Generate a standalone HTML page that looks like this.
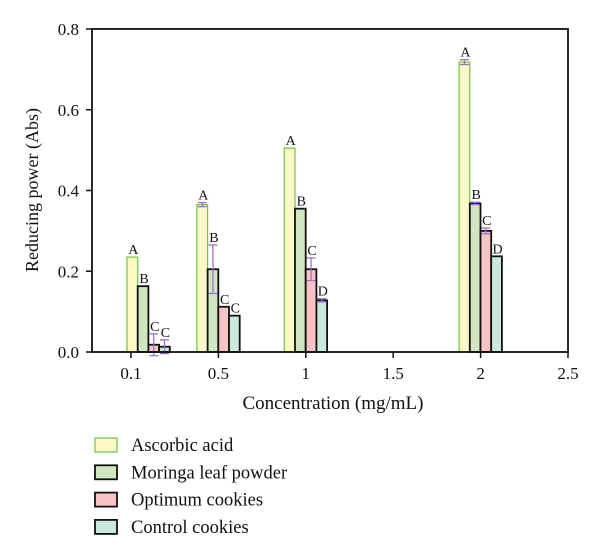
<!DOCTYPE html>
<html><head><meta charset="utf-8"><style>
html,body{margin:0;padding:0;background:#fff;}
svg{display:block;font-family:"Liberation Serif",serif;}
</style></head><body>
<svg id="chart" width="600" height="557" viewBox="0 0 600 557" xmlns="http://www.w3.org/2000/svg">
<g id="plot"></g>
<text x="0" y="0" transform="translate(38,190) rotate(-90)" text-anchor="middle" font-size="18" fill="#111">Reducing power (Abs)</text>
<text x="333" y="409" text-anchor="middle" font-size="19" fill="#111">Concentration (mg/mL)</text>
<g id="legend"></g>
</svg>
<script>
const categories = ["0.1","0.5","1","1.5","2","2.5"];
const barCategories = ["0.1","0.5","1","2"];
const seriesNames = ["Ascorbic acid","Moringa leaf powder","Optimum cookies","Control cookies"];
const ascorbic = [0.235,0.365,0.505,0.718];
const moringa = [0.163,0.205,0.355,0.368];
const optimum = [0.018,0.112,0.205,0.300];
const control = [0.013,0.090,0.128,0.237];
const errAscorbic = [0,0.005,0,0.006];
const errMoringa = [0,0.060,0,0.003];
const errOptimum = [0.027,0,0.028,0.007];
const errControl = [0.017,0,0.004,0];
const lettersAscorbic = ["A","A","A","A"];
const lettersMoringa = ["B","B","B","B"];
const lettersOptimum = ["C","C","C","C"];
const lettersControl = ["C","C","D","D"];
const yTicks = [0,0.2,0.4,0.6,0.8];
const yTickLabels = ["0.0","0.2","0.4","0.6","0.8"];

const NS="http://www.w3.org/2000/svg";
const L=92,R=568,T=29,B=352;
const y=v=>B-(v/0.8)*(B-T);
const step=87.4, x0=131;
const xCat=c=>x0+categories.indexOf(c)*step;
const barW=10.7;
const fills=["#fdf9c6","#cfe6c1","#f8c3c4","#cae8dc"];
const strokes=["#6cc644","#111","#111","#111"];
const plot=document.getElementById('plot');
function mk(tag,attrs,parent){const e=document.createElementNS(NS,tag);for(const k in attrs)e.setAttribute(k,attrs[k]);(parent||plot).appendChild(e);return e;}

const all=[ascorbic,moringa,optimum,control];
const errs=[errAscorbic,errMoringa,errOptimum,errControl];
const letters=[lettersAscorbic,lettersMoringa,lettersOptimum,lettersControl];
barCategories.forEach((c,gi)=>{
  const start = xCat(c) - (gi===0?4:21.5);
  all.forEach((arr,si)=>{
    const bx=start+si*barW, v=arr[gi];
    const r=mk('rect',{x:bx,y:y(v),width:barW,height:B-y(v),fill:fills[si],stroke:strokes[si],'stroke-width':si===0?1.2:1.8});
    
    
    const e=errs[si][gi];
    let top=y(v);
    if(e>0){
      const cx=bx+barW/2, yt=y(v+e), yb=y(v-e);
      const g=mk('g',{stroke:'#9b72c9','stroke-width':1.3,fill:'none'});
      
      
      mk('line',{x1:cx,x2:cx,y1:yt,y2:yb},g);
      mk('line',{x1:cx-4.5,x2:cx+4.5,y1:yt,y2:yt},g);
      mk('line',{x1:cx-4.5,x2:cx+4.5,y1:yb,y2:yb},g);
      top=Math.min(top,yt);
    }
    const t=mk('text',{x:bx+barW/2+1,y:top-3,'text-anchor':'middle','font-size':14,fill:'#111'});
    t.textContent=letters[si][gi];
    
    
  });
});
const frame=mk('rect',{x:L,y:T,width:R-L,height:B-T,fill:'none',stroke:'#111','stroke-width':1.8});


yTicks.forEach((v,i)=>{
  mk('line',{x1:L-6,x2:L,y1:y(v),y2:y(v),stroke:'#111','stroke-width':1.5});
  const t=mk('text',{x:79,y:y(v)+6,'text-anchor':'end','font-size':17,fill:'#111'});
  t.textContent=yTickLabels[i];
  
  
});
categories.forEach(c=>{
  const xx=xCat(c);
  mk('line',{x1:xx,x2:xx,y1:B,y2:B+6,stroke:'#111','stroke-width':1.5});
  const t=mk('text',{x:xx,y:379,'text-anchor':'middle','font-size':17,fill:'#111'});
  t.textContent=c;
  
  
});
const lg=document.getElementById('legend');
seriesNames.forEach((n,i)=>{
  const cy=445+i*27.3;
  const r=mk('rect',{x:95,y:cy-7,width:22,height:14,fill:fills[i],stroke:strokes[i],'stroke-width':i===0?1.2:1.8},lg);
  
  
  const t=mk('text',{x:131,y:cy+6,'font-size':18.5,fill:'#111'},lg);
  t.textContent=n;
  
  
});
</script>
</body></html>
